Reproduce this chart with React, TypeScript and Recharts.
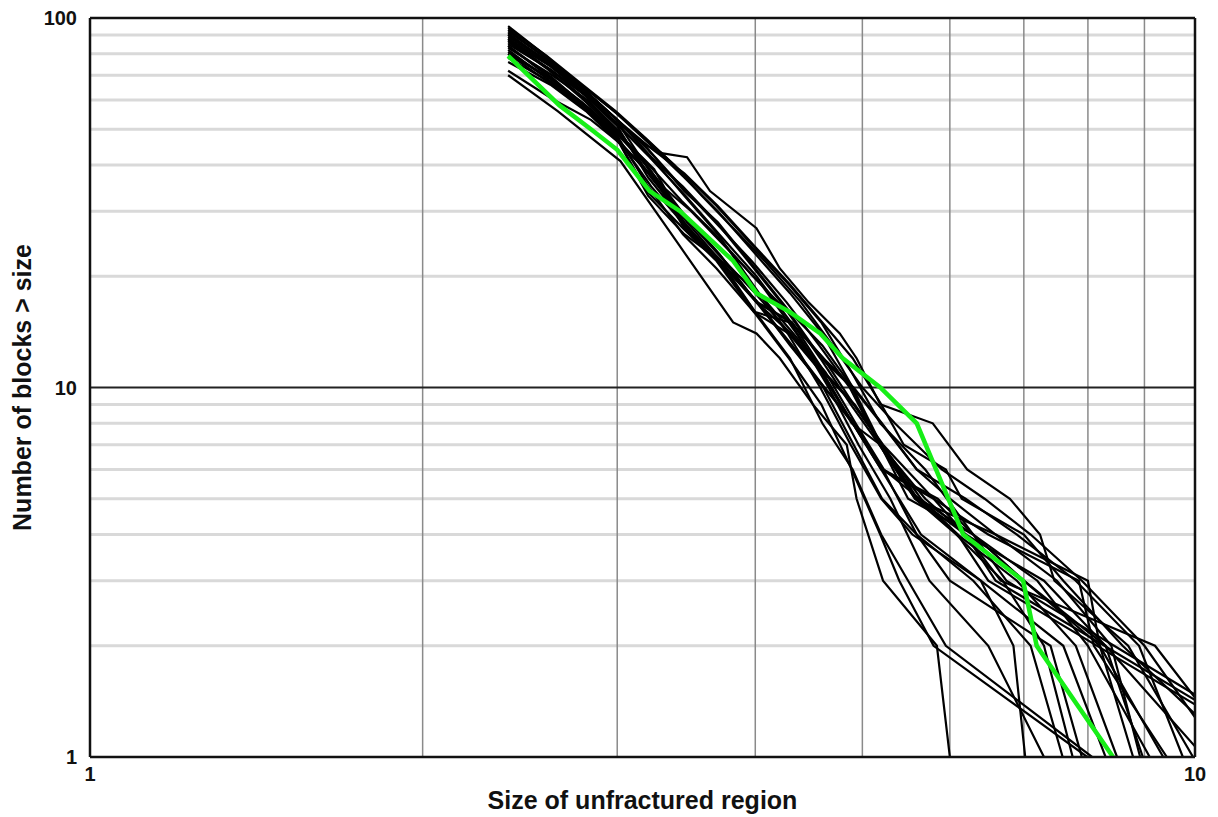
import { LineChart, Line, XAxis, YAxis, ReferenceLine, Label } from 'recharts'

// ─── Data ─────────────────────────────────────────────────────────────────────
// Each run is a cumulative size distribution: [size, number of blocks > size]

type Pt = [number, number]

const X_TICKS = [1, 10]
const Y_TICKS = [1, 10, 100]
const X_GRID = [2, 3, 4, 5, 6, 7, 8, 9]
const Y_GRID = [2, 3, 4, 5, 6, 7, 8, 9, 20, 30, 40, 50, 60, 70, 80, 90]

const observed: Pt[] = [[2.39,79],[2.66,58],[2.84,50],[3.0,44],[3.21,34],[3.42,30],[3.82,22],[4.01,18],[4.3,16],[4.58,14],[4.8,12],[5.19,10],[5.6,8],[6.17,4],[6.99,3],[7.19,2],[8.43,1]]

const run01: Pt[] = [[2.39,70],[2.65,56],[3.02,41],[3.39,25],[3.82,15],[4.01,14],[4.21,12],[4.51,9],[4.84,7],[4.94,5],[5.22,3],[5.84,2],[6.0,1]]
const run02: Pt[] = [[2.39,95],[2.6,78],[2.8,64],[3.0,53],[3.2,43],[3.45,33],[3.7,26],[3.98,19],[4.28,14],[4.58,10],[4.88,7],[5.2,5],[5.55,4],[6.4,3],[6.85,2],[7.02,1]]
const run03: Pt[] = [[2.39,90],[2.61,75],[2.82,62],[3.03,50],[3.22,38],[3.45,27],[3.7,22],[4.02,17],[4.3,13],[4.62,10],[4.9,8],[5.22,6],[5.6,4],[6.3,3],[7.1,2],[7.59,1]]
const run04: Pt[] = [[2.39,88],[2.58,74],[2.79,63],[2.98,54],[3.18,45],[3.43,35],[3.68,28],[3.97,22],[4.27,17],[4.57,13],[4.87,10],[5.18,7],[5.58,5],[6.08,4],[6.7,3],[7.3,2],[7.75,1]]
const run05: Pt[] = [[2.39,86],[2.62,72],[2.81,60],[3.01,49],[3.21,39],[3.46,29],[3.71,23],[4.01,17],[4.31,13],[4.61,10],[4.91,7],[5.21,5],[5.6,4],[6.0,3],[7.4,2],[7.9,1]]
const run06: Pt[] = [[2.39,84],[2.59,70],[2.79,59],[2.99,48],[3.19,34],[3.44,27],[3.69,22],[3.99,16],[4.29,12],[4.59,9],[4.89,6],[5.19,4],[5.4,3],[5.8,2],[7.99,1]]
const run07: Pt[] = [[2.39,82],[2.6,68],[2.8,58],[3.0,47],[3.2,33],[3.45,26],[3.72,22],[4.0,16],[4.3,12],[4.6,8],[4.9,6],[5.2,4],[5.5,3],[5.95,2],[8.07,1]]
const run08: Pt[] = [[2.39,92],[2.6,77],[2.8,65],[3.0,55],[3.2,46],[3.45,37],[3.7,30],[4.0,23],[4.3,18],[4.6,14],[4.9,10],[5.2,7],[5.6,5],[6.1,4],[6.9,3],[7.8,2],[8.5,1]]
const run09: Pt[] = [[2.39,80],[2.62,68],[2.83,57],[3.04,47],[3.24,39],[3.47,27],[3.73,22],[4.03,18],[4.33,14],[4.63,11],[4.93,8],[5.23,6],[5.63,5],[6.3,4],[7.0,3],[8.2,2],[8.79,1]]
const run10: Pt[] = [[2.39,87],[2.59,73],[2.78,61],[2.98,50],[3.18,41],[3.43,32],[3.68,26],[3.98,20],[4.28,16],[4.58,12],[4.88,9],[5.18,7],[5.58,5],[6.6,4],[7.5,3],[8.4,2],[8.92,1]]
const run11: Pt[] = [[2.39,76],[2.61,66],[2.81,56],[3.01,46],[3.21,38],[3.46,29],[3.71,23],[4.01,17],[4.31,14],[4.61,11],[4.91,9],[5.21,7],[5.61,5],[6.2,4],[7.3,3],[8.3,2],[8.97,1]]
const run12: Pt[] = [[2.39,89],[2.6,76],[2.8,64],[3.0,53],[3.2,44],[3.45,34],[3.7,28],[4.0,21],[4.3,16],[4.6,13],[4.9,10],[5.2,8],[5.6,6],[6.0,5],[6.6,4],[8.0,3],[8.2,2],[9.36,1]]
const run13: Pt[] = [[2.39,83],[2.62,70],[2.82,60],[3.02,49],[3.22,37],[3.47,28],[3.72,22],[4.02,17],[4.32,15],[4.62,11],[4.92,9],[5.22,7],[5.8,5],[6.5,4],[7.85,3],[8.1,2],[9.43,1]]
const run14: Pt[] = [[2.39,78],[2.61,67],[2.81,57],[3.01,48],[3.21,39],[3.46,27],[3.71,22],[4.01,17],[4.31,15],[4.61,12],[4.91,10],[5.21,8],[5.6,6],[6.2,5],[6.9,4],[7.8,3],[8.9,2],[9.75,1]]
const run15: Pt[] = [[2.39,93],[2.6,77],[2.8,64],[3.0,53],[3.2,45],[3.3,43],[3.47,42],[3.64,34],[4.01,27],[4.21,21],[4.47,17],[4.77,14],[4.94,12],[5.19,9],[5.79,8],[6.22,6],[6.8,5],[7.24,4],[7.46,3],[8.7,2],[9.96,1]]
const run16: Pt[] = [[2.39,85],[2.6,73],[2.8,62],[3.0,52],[3.2,45],[3.45,38],[3.7,31],[4.0,24],[4.3,19],[4.6,15],[4.9,12],[5.2,9],[5.45,7],[5.95,6],[6.15,5],[7.0,4],[7.6,3],[8.6,2],[11.0,1]]
const run17: Pt[] = [[2.39,81],[2.6,69],[2.8,58],[3.0,48],[3.2,35],[3.44,26],[3.69,21],[3.99,16],[4.29,14],[4.59,11],[4.89,8],[5.19,7],[5.5,5],[6.3,4],[7.0,3],[8.3,2],[10.2,1]]
const run18: Pt[] = [[2.39,87],[2.61,74],[2.81,62],[3.01,51],[3.21,42],[3.46,33],[3.71,26],[4.01,20],[4.31,15],[4.61,12],[4.91,9],[5.21,7],[5.65,5],[6.1,4],[6.5,3],[12.0,1]]
const run19: Pt[] = [[2.39,91],[2.59,76],[2.79,63],[2.99,52],[3.19,43],[3.44,35],[3.69,28],[3.99,21],[4.29,16],[4.59,12],[4.89,10],[5.19,7],[5.7,5],[6.2,4],[6.6,3],[12.2,1]]
const run20: Pt[] = [[2.39,84],[2.62,69],[2.82,57],[3.02,46],[3.22,35],[3.47,27],[3.72,22],[4.02,17],[4.32,13],[4.62,10],[4.92,8],[5.22,6],[5.85,5],[6.3,4],[6.75,3],[12.4,1]]
const run21: Pt[] = [[2.39,80],[2.6,67],[2.8,57],[3.0,47],[3.2,38],[3.45,29],[3.7,23],[4.0,18],[4.3,14],[4.6,11],[4.9,8],[5.2,6],[5.8,5],[6.2,4],[6.67,3],[9.2,2],[11.0,1]]
const run22: Pt[] = [[2.39,88],[2.6,75],[2.8,62],[3.0,51],[3.2,37],[3.45,28],[3.7,22],[4.0,16],[4.3,15],[4.6,11],[4.9,8],[5.2,6],[5.65,4],[6.4,3],[7.6,2],[8.3,1]]
const run23: Pt[] = [[2.39,94],[2.59,79],[2.79,66],[2.99,56],[3.19,47],[3.44,38],[3.69,31],[3.99,24],[4.29,19],[4.59,15],[4.89,11],[5.19,8],[5.7,6],[6.3,4],[7.2,3],[8.0,2],[9.1,1]]
const run24: Pt[] = [[2.39,72],[2.63,60],[2.84,53],[3.04,45],[3.26,36],[3.5,30],[3.76,24],[4.05,19],[4.36,14],[4.66,10],[4.96,7],[5.3,5],[5.75,3],[6.5,2],[7.3,1]]
const run25: Pt[] = [[2.39,90],[2.57,78],[2.76,67],[2.96,57],[3.16,48],[3.38,40],[3.58,33],[3.82,27],[4.08,22],[4.4,17],[4.7,13],[5.0,10],[5.35,8],[5.9,6],[6.45,5],[7.1,4],[7.9,3],[9.0,2],[10.6,1]]

const RUNS = [
  run01, run02, run03, run04, run05, run06, run07, run08, run09, run10, run11, run12, run13,
  run14, run15, run16, run17, run18, run19, run20, run21, run22, run23, run24, run25,
]

const rows = (pts: Pt[]) => pts.map(([size, count]) => ({ size, count }))

// ─── Styles ───────────────────────────────────────────────────────────────────

const FONT = '"Liberation Sans", Arial, Helvetica, sans-serif'
const tickStyle = { fill: '#111', fontSize: 20, fontWeight: 700, fontFamily: FONT }
const EDGE = { stroke: '#111', strokeWidth: 2.5 }

// ─── Component ────────────────────────────────────────────────────────────────

export default function App() {
  return (
    <div style={{ position: 'absolute', left: 0, top: 0, width: 1218, height: 817, background: '#fff' }}>
      <LineChart width={1218} height={817} margin={{ top: 18, right: 23, bottom: 10, left: 10 }}>
        <XAxis
          dataKey="size"
          type="number"
          scale="log"
          domain={[1, 10]}
          allowDataOverflow
          ticks={X_TICKS}
          interval={0}
          height={50}
          axisLine={false}
          tickLine={false}
          tickSize={0}
          tickMargin={10}
          tick={tickStyle}
        >
          <Label value="Size of unfractured region" position="center" dy={18}
            fill="#111" fontSize={25} fontWeight={700} fontFamily={FONT} />
        </XAxis>
        <YAxis
          dataKey="count"
          type="number"
          scale="log"
          domain={[1, 100]}
          allowDataOverflow
          ticks={Y_TICKS}
          interval={0}
          width={80}
          axisLine={false}
          tickLine={false}
          tickSize={0}
          tickMargin={13}
          tick={tickStyle}
        >
          <Label value="Number of blocks > size" position="center" angle={-90} dx={-28}
            fill="#111" fontSize={25} fontWeight={700} fontFamily={FONT} />
        </YAxis>

        {/* grid */}
        {Y_GRID.map(v => (
          <ReferenceLine key={`h${v}`} y={v} stroke="#d9d9d9" strokeWidth={3} />
        ))}
        {X_GRID.map(v => (
          <ReferenceLine key={`v${v}`} x={v} stroke="#8a8a8a" strokeWidth={1.5} />
        ))}
        <ReferenceLine y={10} stroke="#222" strokeWidth={2} />

        {/* simulated runs, then the measured curve on top */}
        {RUNS.map((run, i) => (
          <Line
            key={i}
            data={rows(run)}
            dataKey="count"
            type="linear"
            stroke="#000"
            strokeWidth={2.2}
            dot={false}
            activeDot={false}
            isAnimationActive={false}
          />
        ))}
        <Line
          data={rows(observed)}
          dataKey="count"
          type="linear"
          stroke="#17ee17"
          strokeWidth={4.5}
          dot={false}
          activeDot={false}
          isAnimationActive={false}
        />

        {/* frame */}
        <ReferenceLine y={100} {...EDGE} />
        <ReferenceLine y={1} {...EDGE} />
        <ReferenceLine x={1} {...EDGE} />
        <ReferenceLine x={10} {...EDGE} />
      </LineChart>
    </div>
  )
}
